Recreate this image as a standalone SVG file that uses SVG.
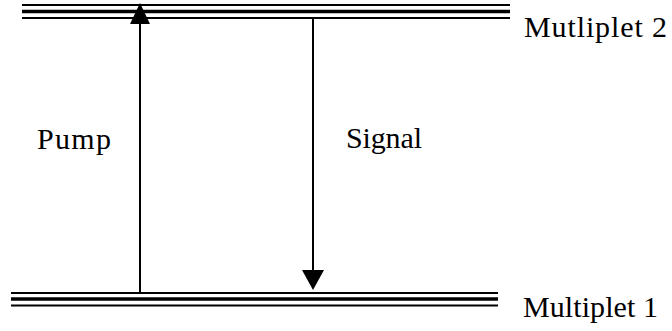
<svg xmlns="http://www.w3.org/2000/svg" width="672" height="331" viewBox="0 0 672 331">
<style>
.thin{stroke:#000;stroke-width:2}
.thick{stroke:#000;stroke-width:3.6}
.conn{stroke:#000;stroke-width:2;fill:none}
.lbl{font-size:30px;fill:#000}
</style>
<rect width="672" height="331" fill="#fff"/>
<g id="multiplet2">
<line class="thin" x1="22" y1="5" x2="510" y2="5"/>
<line class="thick" x1="22" y1="11.5" x2="510" y2="11.5"/>
<line class="thin" x1="22" y1="18" x2="510" y2="18"/>
<text class="lbl" font-family="'Liberation Serif', 'Times New Roman', 'DejaVu Serif', serif" x="524" y="37" textLength="143">Mutliplet 2</text>
</g>
<g id="multiplet1">
<line class="thin" x1="11" y1="293" x2="498" y2="293"/>
<line class="thick" x1="11" y1="299" x2="498" y2="299"/>
<line class="thin" x1="11" y1="305.5" x2="498" y2="305.5"/>
<text class="lbl" font-family="'Liberation Serif', 'Times New Roman', 'DejaVu Serif', serif" x="523" y="317" textLength="135">Multiplet 1</text>
</g>
<g id="connectors">
<g id="pump">
<line class="conn" x1="140" y1="293" x2="140" y2="22"/>
<polygon points="140,3 130,24 150,24" fill="#000"/>
</g>
<g id="signal">
<line class="conn" x1="313" y1="19" x2="313" y2="272"/>
<polygon points="313,290 302,270 324,270" fill="#000"/>
</g>
</g>
<g id="labels">
<text class="lbl" font-family="'Liberation Serif', 'Times New Roman', 'DejaVu Serif', serif" x="37" y="149" textLength="74">Pump</text>
<text class="lbl" font-family="'Liberation Serif', 'Times New Roman', 'DejaVu Serif', serif" x="346" y="148" textLength="76">Signal</text>
</g>
</svg>
